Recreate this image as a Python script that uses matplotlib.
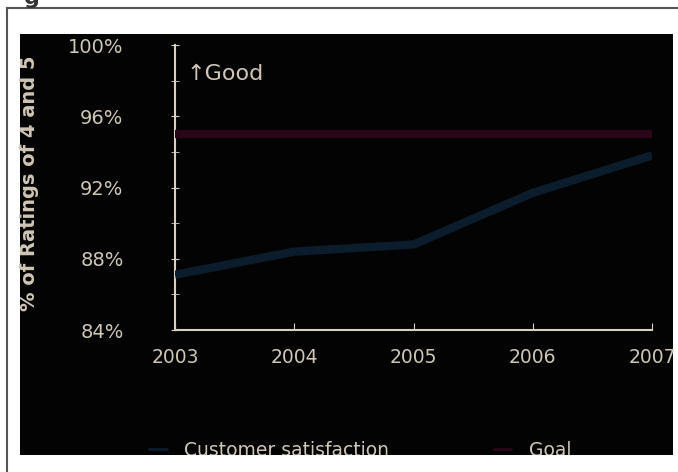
import matplotlib
matplotlib.use('Agg')
import matplotlib.pyplot as plt
from matplotlib.patches import Rectangle
from matplotlib.lines import Line2D

years = [2003, 2004, 2005, 2006, 2007]
satisfaction = [87.1, 88.4, 88.8, 91.7, 93.8]
goal = [95.0, 95.0, 95.0, 95.0, 95.0]
y_ticks = [84, 88, 92, 96, 100]
series_names = ['Customer satisfaction', 'Goal']

txt = '#cfc6b6'
axis_col = '#d9cfbf'
sat_col = '#0b1c2c'
goal_col = '#2a0618'

plt.rcParams['font.family'] = ['DejaVu Sans']

fig = plt.figure(figsize=(6.78, 4.72), dpi=100)
fig.patch.set_facecolor('white')

# black panel behind the chart
fig.patches.append(Rectangle((20 / 678, 1 - 455 / 472), 653 / 678, 421 / 472,
                             transform=fig.transFigure, facecolor='#030303',
                             edgecolor='none', zorder=-5))
# outer frame lines (top and left)
fig.add_artist(Line2D([7 / 678, 1], [1 - 8 / 472, 1 - 8 / 472], color='#555555', lw=1.5))
fig.add_artist(Line2D([7 / 678, 7 / 678], [0, 1 - 8 / 472], color='#555555', lw=1.5))
fig.text(0.035, 1.005, 'g', fontsize=16, fontweight='bold', color='#333333', va='center')

ax = fig.add_axes([175 / 678, 1 - 330 / 472, 477 / 678, 285 / 472])
ax.set_facecolor('none')

ax.plot(years, goal, color=goal_col, lw=6, solid_capstyle='butt', label=series_names[1], zorder=3)
ax.plot(years, satisfaction, color=sat_col, lw=6, solid_capstyle='butt', label=series_names[0], zorder=3)

ax.set_xlim(2003, 2007)
ax.set_ylim(84, 100)
ax.set_xticks(years)
ax.set_xticklabels([str(y) for y in years])
ax.set_yticks(y_ticks)
ax.set_yticklabels([f'{v}%' for v in y_ticks])
ax.set_yticks([86, 90, 94, 98], minor=True)

for s in ['top', 'right']:
    ax.spines[s].set_visible(False)
for s in ['left', 'bottom']:
    ax.spines[s].set_color(axis_col)
    ax.spines[s].set_linewidth(1.5)

ax.tick_params(axis='y', which='both', direction='inout', length=6, color=axis_col,
               labelcolor=txt, labelsize=14, pad=34)
ax.tick_params(axis='x', direction='in', length=5, color=axis_col, labelcolor=txt,
               labelsize=13.5, pad=13)

ax.set_ylabel('% of Ratings of 4 and 5', fontsize=14, fontweight='bold', color=txt)
ax.yaxis.set_label_coords(-0.285, 0.515)

ax.text(2003.1, 98.4, '\u2191Good', fontsize=16, color=txt, va='center', ha='left')

h, l = ax.get_legend_handles_labels()
leg = fig.legend([h[1], h[0]], [l[1], l[0]], ncol=2, frameon=False, fontsize=13.5,
                 loc='center left', bbox_to_anchor=(131 / 678, 1 - 450 / 472),
                 handlelength=1.05, handletextpad=0.9, columnspacing=5.5)
for t in leg.get_texts():
    t.set_color(txt)
for ln in leg.get_lines():
    ln.set_linewidth(2)

# white strip that cuts off the bottom of the panel and legend
fig.patches.append(Rectangle((9 / 678, 0), 669 / 678, 1 - 455 / 472,
                             transform=fig.transFigure, facecolor='white',
                             edgecolor='none', zorder=20))

fig.savefig('out.png', dpi=100, facecolor='white')
